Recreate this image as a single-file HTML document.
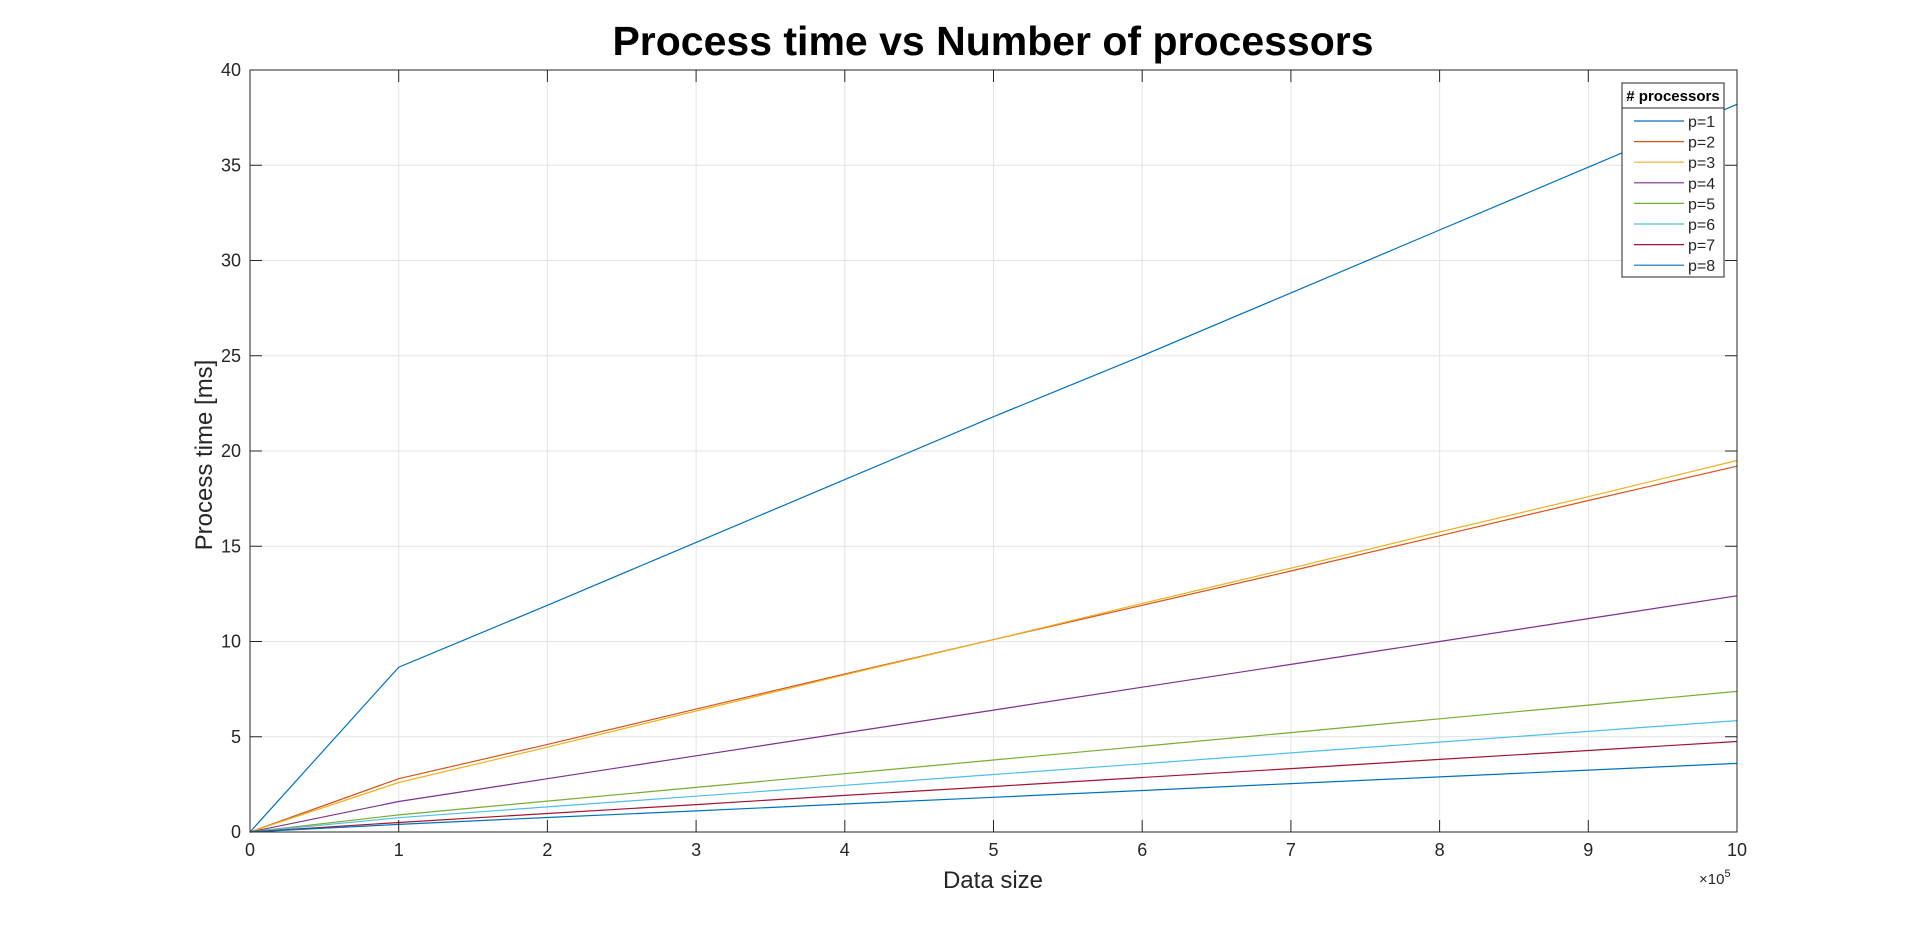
<!DOCTYPE html>
<html><head><meta charset="utf-8"><style>
html,body{margin:0;padding:0;background:#fff;}
svg{display:block;font-family:"Liberation Sans",Arial,sans-serif;}
</style></head><body>
<svg id="chart" width="1920" height="936" viewBox="0 0 1920 936" xmlns="http://www.w3.org/2000/svg">
<rect x="0" y="0" width="1920" height="936" fill="#fff"/>
<text x="993" y="55" font-size="41" font-weight="bold" text-anchor="middle" fill="#000">Process time vs Number of processors</text>
<g id="grid"></g>
<g id="series"></g>
<g id="axes"></g>
<text x="993" y="888" font-size="24" text-anchor="middle" fill="#262626">Data size</text>
<text transform="translate(212,455) rotate(-90)" font-size="24" text-anchor="middle" fill="#262626">Process time [ms]</text>
<text x="1699" y="884" font-size="15" fill="#262626">×10<tspan dy="-7" font-size="11">5</tspan></text>
<g id="legend"></g>
</svg>
<script>
const xValues=[0,1,2,3,4,5,6,7,8,9,10];
const xTicks=[0,1,2,3,4,5,6,7,8,9,10];
const yTicks=[0,5,10,15,20,25,30,35,40];
const seriesNames=["p=1","p=2","p=3","p=4","p=5","p=6","p=7","p=8"];
const seriesColors=["#0072BD","#D95319","#EDB120","#7E2F8E","#77AC30","#4DBEEE","#A2142F","#0072BD"];
const p1=[0,8.65,11.9,15.2,18.5,21.8,25.0,28.3,31.6,34.9,38.2];
const p2=[0,2.8,4.6,6.45,8.3,10.1,11.9,13.7,15.55,17.4,19.2];
const p3=[0,2.6,4.45,6.35,8.25,10.1,12.0,13.85,15.75,17.6,19.5];
const p4=[0,1.6,2.8,4.0,5.2,6.4,7.6,8.8,10.0,11.2,12.4];
const p5=[0,0.9,1.62,2.34,3.06,3.78,4.5,5.22,5.94,6.66,7.38];
const p6=[0,0.75,1.32,1.88,2.45,3.02,3.58,4.15,4.72,5.28,5.85];
const p7=[0,0.5,0.97,1.44,1.92,2.39,2.86,3.33,3.81,4.28,4.75];
const p8=[0,0.4,0.76,1.11,1.47,1.82,2.18,2.54,2.89,3.25,3.6];
const allSeries=[p1,p2,p3,p4,p5,p6,p7,p8];

const L=250,R=1737,T=70,B=832;
const X=v=>L+(v-0)/(10-0)*(R-L);
const Y=v=>B-(v-0)/(40-0)*(B-T);
const NS="http://www.w3.org/2000/svg";
function mk(tag,attrs,parent){const e=document.createElementNS(NS,tag);for(const k in attrs)e.setAttribute(k,attrs[k]);parent.appendChild(e);return e;}
const grid=document.getElementById('grid'),axes=document.getElementById('axes'),ser=document.getElementById('series'),leg=document.getElementById('legend');

xTicks.forEach(t=>{
  const g=mk('line',{x1:X(t),x2:X(t),y1:T,y2:B,stroke:'#e3e3e3','stroke-width':1},grid);
  
  
  mk('line',{x1:X(t),x2:X(t),y1:B,y2:B-12,stroke:'#262626','stroke-width':1},axes);
  mk('line',{x1:X(t),x2:X(t),y1:T,y2:T+12,stroke:'#262626','stroke-width':1},axes);
  const tx=mk('text',{x:X(t),y:B+24,'font-size':18,'text-anchor':'middle',fill:'#262626'},axes);
  tx.textContent=t;
  
  
});
yTicks.forEach(t=>{
  const g=mk('line',{x1:L,x2:R,y1:Y(t),y2:Y(t),stroke:'#e3e3e3','stroke-width':1},grid);
  
  
  mk('line',{x1:L,x2:L+12,y1:Y(t),y2:Y(t),stroke:'#262626','stroke-width':1},axes);
  mk('line',{x1:R,x2:R-12,y1:Y(t),y2:Y(t),stroke:'#262626','stroke-width':1},axes);
  const tx=mk('text',{x:L-9,y:Y(t)+6,'font-size':18,'text-anchor':'end',fill:'#262626'},axes);
  tx.textContent=t;
  
  
});
const box=mk('rect',{x:L,y:T,width:R-L,height:B-T,fill:'none',stroke:'#262626','stroke-width':1},axes);



allSeries.forEach((s,i)=>{
  const pts=s.map((v,j)=>X(xValues[j]).toFixed(1)+','+Y(v).toFixed(1)).join(' ');
  const pl=mk('polyline',{points:pts,fill:'none',stroke:seriesColors[i],'stroke-width':1.2},ser);
  
  
});

const lx=1622,ly=83,lw=102,lh=194;
mk('rect',{x:lx,y:ly,width:lw,height:lh,fill:'#fff',stroke:'#262626','stroke-width':1},leg);
mk('line',{x1:lx,x2:lx+lw,y1:ly+25,y2:ly+25,stroke:'#262626','stroke-width':1},leg);
const lt=mk('text',{x:lx+lw/2,y:ly+18,'font-size':15,'font-weight':'bold','text-anchor':'middle',fill:'#000'},leg);
lt.textContent='# processors';


seriesNames.forEach((n,i)=>{
  const yy=ly+38+i*20.6;
  const g=mk('g',{},leg);
  
  
  mk('line',{x1:lx+12,x2:lx+62,y1:yy,y2:yy,stroke:seriesColors[i],'stroke-width':1.2},g);
  const t=mk('text',{x:lx+66,y:yy+6,'font-size':16,fill:'#262626'},g);
  t.textContent=n;
});
</script>
</body></html>
